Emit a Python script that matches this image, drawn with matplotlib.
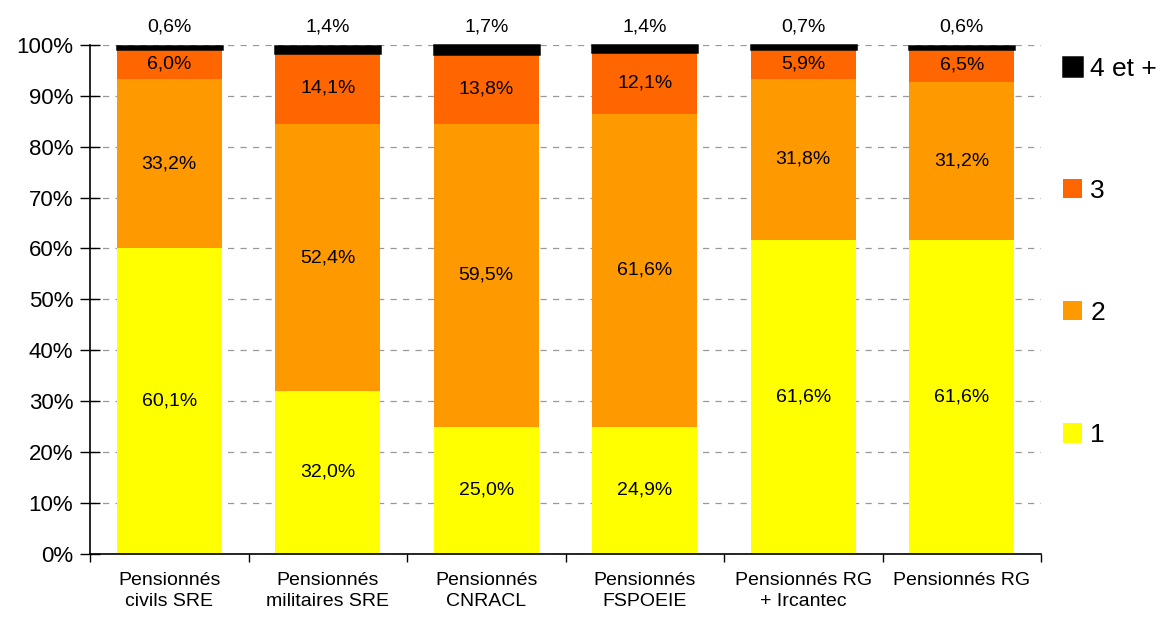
import numpy as np
import matplotlib.pyplot as plt

plt.rcParams['font.family'] = ['Liberation Sans', 'DejaVu Sans']

categories = ["Pensionnés\ncivils SRE", "Pensionnés\nmilitaires SRE", "Pensionnés\nCNRACL",
              "Pensionnés\nFSPOEIE", "Pensionnés RG\n+ Ircantec", "Pensionnés RG"]
series_names = ["1", "2", "3", "4 et +"]
v1 = [60.1, 32.0, 25.0, 24.9, 61.6, 61.6]
v2 = [33.2, 52.4, 59.5, 61.6, 31.8, 31.2]
v3 = [6.0, 14.1, 13.8, 12.1, 5.9, 6.5]
v4 = [0.6, 1.4, 1.7, 1.4, 0.7, 0.6]
colors = ["#FFFF00", "#FF9900", "#FF6600", "#000000"]

fig = plt.figure(figsize=(11.6, 6.18), dpi=100)
ax = fig.add_axes([90 / 1160, 1 - 553.7 / 618, (1041 - 90) / 1160, (553.7 - 45) / 618])

x = np.arange(len(categories))
bottom = np.zeros(len(categories))
handles = []
for i, vals in enumerate([v1, v2, v3, v4]):
    vals = np.array(vals)
    if i == 3:
        # le dernier segment a un contour noir, comme dans l'original
        b = ax.bar(x, vals, width=0.66, bottom=bottom, color=colors[i], label=series_names[i],
                   edgecolor='black', linewidth=1.8, zorder=2, clip_on=False)
    else:
        b = ax.bar(x, vals, width=0.66, bottom=bottom, color=colors[i], label=series_names[i],
                   zorder=2)
    handles.append(b)
    for xi, v, bo in zip(x, vals, bottom):
        txt = f"{v:.1f}".replace('.', ',') + '%'
        if i < 3:
            ax.text(xi, bo + v / 2, txt, ha='center', va='center', fontsize=14, zorder=3)
        else:
            ax.text(xi, 103.6, txt, ha='center', va='center', fontsize=14, zorder=3,
                    clip_on=False)
    bottom = bottom + vals

ax.set_xlim(-0.5, len(categories) - 0.5)
ax.set_ylim(0, 100)
ax.set_yticks(np.arange(0, 101, 10))
ax.set_yticklabels([f"{t}%" for t in range(0, 101, 10)], fontsize=16)
ax.yaxis.grid(True, linestyle=(0, (5, 5)), color='#999999', linewidth=0.9, zorder=0)
ax.tick_params(axis='y', direction='inout', length=14, width=1, pad=5)

ax.set_xticks(x)
ax.set_xticklabels(categories, fontsize=14, linespacing=1.3)
ax.set_xticks(np.arange(-0.5, len(categories), 1), minor=True)
ax.tick_params(axis='x', which='major', length=0, pad=13)
ax.tick_params(axis='x', which='minor', direction='out', length=6, width=1)

for s in ['top', 'right']:
    ax.spines[s].set_visible(False)
for s in ['left', 'bottom']:
    ax.spines[s].set_linewidth(1.2)

fig.legend(handles[::-1], series_names[::-1], loc='upper left',
           bbox_to_anchor=(1052 / 1160, 1 - 46 / 618), frameon=False, fontsize=19,
           handlelength=0.75, handleheight=0.75, handletextpad=0.3, labelspacing=3.72,
           borderaxespad=0)

fig.savefig("out.png", dpi=100)
